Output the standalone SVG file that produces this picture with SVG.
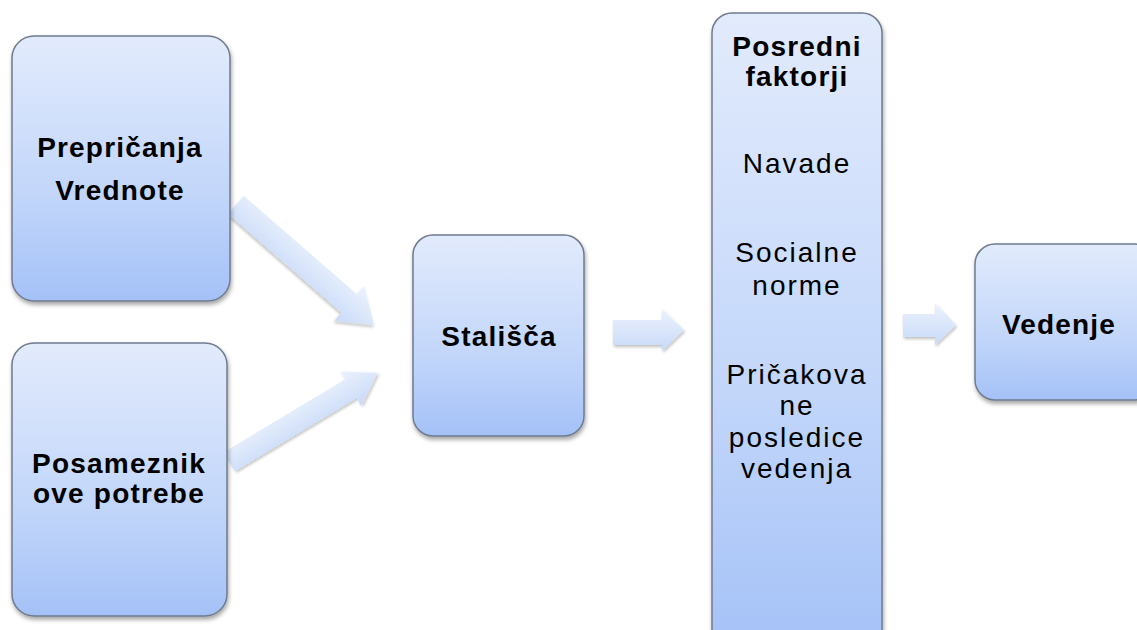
<svg xmlns="http://www.w3.org/2000/svg" width="1137" height="630" viewBox="0 0 1137 630">
<defs>
<linearGradient id="boxg" x1="0" y1="0" x2="0" y2="1">
<stop offset="0" stop-color="#e2ebfc"/>
<stop offset="0.6" stop-color="#c2d6fa"/>
<stop offset="1" stop-color="#a4c1f7"/>
</linearGradient>
<linearGradient id="arrg" x1="0" y1="0" x2="0" y2="1">
<stop offset="0" stop-color="#ecf2fd"/>
<stop offset="1" stop-color="#c8daf8"/>
</linearGradient>
<filter id="sh" x="-10%" y="-10%" width="125%" height="125%">
<feDropShadow dx="1" dy="3" stdDeviation="2" flood-color="#000" flood-opacity="0.35"/>
</filter>
<filter id="ash" x="-20%" y="-20%" width="140%" height="140%">
<feDropShadow dx="1" dy="2" stdDeviation="1.5" flood-color="#000" flood-opacity="0.25"/>
</filter>
</defs>
<style>
.box{fill:url(#boxg);stroke:#6f7b8e;stroke-width:1.5;filter:url(#sh)}
.arr{fill:url(#arrg);filter:url(#ash)}
.tb{font-family:"Liberation Sans",Arial,sans-serif;font-weight:bold;font-size:28px;fill:#000;text-anchor:middle;letter-spacing:1.2px}
.tr{font-family:"Liberation Sans",Arial,sans-serif;font-size:28px;fill:#000;text-anchor:middle;letter-spacing:2px}
</style>
<rect width="1137" height="630" fill="#fff"/>
<g id="connectors">
<g transform="translate(236,205) rotate(41)"><polygon class="arr" points="0,-12 150,-12 150,-23 183,0 150,23 150,12 0,12"/></g>
<g transform="translate(229,462) rotate(-31)"><polygon class="arr" points="0,-11 142,-11 142,-20 173,0 142,20 142,11 0,11"/></g>
<polygon class="arr" points="613,320 662,320 662,309 684,330 662,351 662,345 613,345"/>
<polygon class="arr" points="903,314 935,314 935,303 956,325 935,345 935,337 903,337"/>
</g>
<g id="n-preprican">
<rect class="box" x="12" y="36" width="218" height="265" rx="22"/>
<text class="tb" x="120" y="157">Prepričanja</text>
<text class="tb" x="120" y="200">Vrednote</text>
</g>
<g id="n-posameznik">
<rect class="box" x="12" y="343" width="215" height="273" rx="22"/>
<text class="tb" x="119" y="473">Posameznik</text>
<text class="tb" x="119" y="503">ove potrebe</text>
</g>
<g id="n-stalisca">
<rect class="box" x="413" y="235" width="171" height="201" rx="20"/>
<text class="tb" x="499" y="346">Stališča</text>
</g>
<g id="n-posredni">
<rect class="box" x="712" y="13" width="170" height="640" rx="20"/>
<text class="tb" x="797" y="56">Posredni</text>
<text class="tb" x="797" y="86">faktorji</text>
<text class="tr" x="797" y="173">Navade</text>
<text class="tr" x="797" y="262">Socialne</text>
<text class="tr" x="797" y="295">norme</text>
<text class="tr" x="797" y="384">Pričakova</text>
<text class="tr" x="797" y="415">ne</text>
<text class="tr" x="797" y="447">posledice</text>
<text class="tr" x="797" y="478">vedenja</text>
</g>
<g id="n-vedenje">
<rect class="box" x="975" y="244" width="180" height="156" rx="20"/>
<text class="tb" x="1059" y="334">Vedenje</text>
</g>
</svg>
